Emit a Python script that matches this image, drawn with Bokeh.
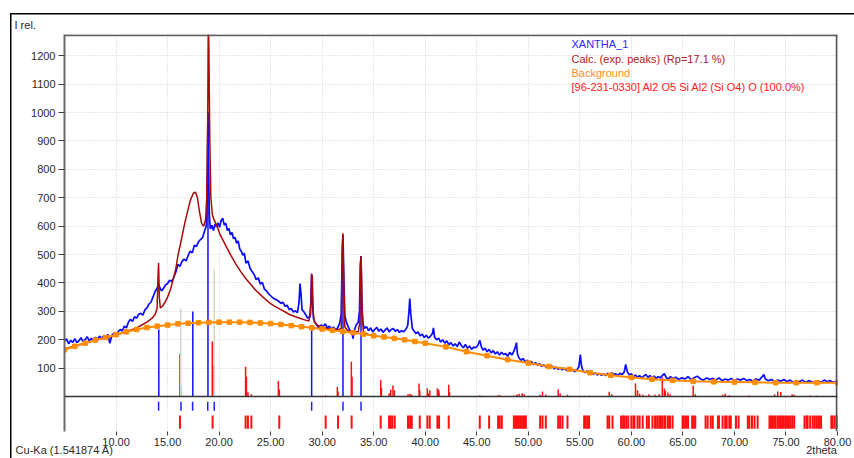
from bokeh.plotting import figure
from bokeh.models import (FixedTicker, NumeralTickFormatter, Span, Label, LinearAxis,
                          Range1d)
from bokeh.embed import file_html
from bokeh.resources import INLINE

# ---------------- data ----------------
x_ticks = [10, 15, 20, 25, 30, 35, 40, 45, 50, 55, 60, 65, 70, 75, 80]
y_ticks = [100, 200, 300, 400, 500, 600, 700, 800, 900, 1000, 1100, 1200]

# measured pattern XANTHA_1 (2theta, counts)
obs_2theta = [
    5.0, 5.2, 5.4, 5.6, 5.8, 6.0, 6.2, 6.4, 6.6, 6.8,
    7.0, 7.2, 7.4, 7.6, 7.8, 8.0, 8.2, 8.4, 8.6, 8.8,
    9.0, 9.2, 9.4, 9.6, 9.8, 10.0, 10.2, 10.4, 10.6, 10.8,
    11.0, 11.2, 11.4, 11.6, 11.8, 12.0, 12.2, 12.4, 12.6, 12.8,
    13.0, 13.2, 13.4, 13.6, 13.8, 14.0, 14.1, 14.2, 14.4, 14.6,
    14.8, 15.0, 15.2, 15.4, 15.6, 15.8, 16.0, 16.2, 16.4, 16.6,
    16.8, 17.0, 17.2, 17.4, 17.6, 17.8, 18.0, 18.2, 18.4, 18.6,
    18.75, 18.85, 18.92, 18.98, 19.05, 19.15, 19.3, 19.45, 19.6, 19.75,
    19.9, 20.05, 20.2, 20.35, 20.5, 20.65, 20.8, 20.95, 21.1, 21.25,
    21.4, 21.55, 21.7, 21.85, 22.0, 22.15, 22.3, 22.45, 22.6, 22.8,
    23.0, 23.2, 23.4, 23.6, 23.8, 24.0, 24.2, 24.4, 24.6, 24.8,
    25.0, 25.2, 25.4, 25.6, 25.8, 26.0, 26.2, 26.4, 26.6, 26.8,
    27.0, 27.2, 27.4, 27.6, 27.75, 27.85, 27.95, 28.05, 28.2, 28.4,
    28.6, 28.8, 28.9, 28.97, 29.05, 29.15, 29.3, 29.5, 29.7, 29.9,
    30.1, 30.3, 30.5, 30.7, 30.9, 31.1, 31.3, 31.5, 31.7, 31.85,
    31.95, 32.02, 32.1, 32.2, 32.35, 32.5, 32.7, 32.9, 33.0, 33.1,
    33.3, 33.5, 33.62, 33.7, 33.77, 33.85, 33.95, 34.1, 34.3, 34.5,
    34.7, 34.9, 35.1, 35.3, 35.5, 35.7, 35.9, 36.1, 36.3, 36.5,
    36.7, 36.9, 37.1, 37.3, 37.5, 37.7, 37.9, 38.1, 38.3, 38.42,
    38.5, 38.6, 38.75, 38.9, 39.1, 39.3, 39.5, 39.7, 39.9, 40.1,
    40.3, 40.5, 40.7, 40.8, 40.9, 41.1, 41.3, 41.5, 41.7, 41.9,
    42.1, 42.3, 42.5, 42.7, 42.9, 43.1, 43.3, 43.5, 43.7, 43.9,
    44.1, 44.3, 44.5, 44.7, 44.9, 45.1, 45.3, 45.45, 45.6, 45.8,
    46.0, 46.2, 46.4, 46.6, 46.8, 47.0, 47.2, 47.4, 47.6, 47.8,
    48.0, 48.2, 48.4, 48.6, 48.75, 48.85, 48.95, 49.1, 49.3, 49.5,
    49.7, 49.9, 50.1, 50.3, 50.5, 50.7, 50.9, 51.1, 51.3, 51.5,
    51.7, 51.9, 52.1, 52.3, 52.5, 52.7, 52.9, 53.1, 53.3, 53.5,
    53.7, 53.9, 54.1, 54.3, 54.5, 54.7, 54.9, 55.05, 55.15, 55.3,
    55.5, 55.7, 55.9, 56.1, 56.3, 56.5, 56.7, 56.9, 57.1, 57.3,
    57.5, 57.7, 57.9, 58.1, 58.3, 58.5, 58.7, 58.9, 59.1, 59.3,
    59.45, 59.6, 59.8, 60.0, 60.2, 60.4, 60.6, 60.8, 61.0, 61.2,
    61.4, 61.6, 61.8, 62.0, 62.2, 62.4, 62.6, 62.8, 63.0, 63.2,
    63.4, 63.6, 63.8, 64.0, 64.3, 64.6, 64.9, 65.2, 65.5, 65.8,
    66.1, 66.4, 66.7, 67.0, 67.3, 67.6, 67.9, 68.2, 68.5, 68.8,
    69.1, 69.4, 69.7, 70.0, 70.3, 70.6, 70.9, 71.2, 71.5, 71.8,
    72.1, 72.4, 72.7, 72.85, 73.0, 73.3, 73.6, 73.9, 74.2, 74.5,
    74.8, 75.1, 75.4, 75.7, 76.0, 76.3, 76.6, 76.9, 77.2, 77.5,
    77.8, 78.1, 78.4, 78.7, 79.0, 79.3, 79.6, 79.9, 80.0,
]
obs_counts = [
    195, 203, 186, 198, 191, 204, 190, 197, 207, 194,
    200, 211, 196, 205, 199, 209, 201, 213, 204, 214,
    206, 219, 188, 216, 224, 214, 229, 236, 231, 248,
    242, 262, 272, 265, 281, 276, 290, 293, 287, 305,
    312, 326, 333, 352, 371, 382, 397, 388, 372, 380,
    393, 398, 410, 405, 420, 438, 466, 458, 476, 484,
    478, 497, 512, 506, 533, 528, 545, 553, 560, 584,
    600, 700, 1000, 820, 640, 590, 603, 585, 608, 598,
    612, 596, 620, 628, 604, 610, 585, 592, 570, 578,
    556, 560, 540, 548, 520, 512, 498, 505, 470, 478,
    452, 440, 430, 412, 418, 396, 402, 378, 372, 362,
    355, 348, 344, 340, 335, 328, 332, 318, 322, 306,
    310, 298, 302, 296, 330, 398, 360, 305, 300, 288,
    276, 282, 330, 430, 340, 276, 262, 250, 240, 252,
    246, 256, 242, 248, 238, 245, 236, 242, 258, 290,
    520, 570, 420, 285, 262, 248, 232, 222, 204, 230,
    252, 262, 300, 460, 495, 330, 258, 240, 246, 232,
    242, 228, 236, 244, 230, 238, 226, 234, 242, 228,
    236, 240, 230, 236, 226, 232, 228, 236, 250, 300,
    345, 290, 240, 232, 222, 228, 214, 220, 208, 216,
    206, 212, 222, 242, 210, 200, 206, 192, 200, 188,
    196, 182, 190, 178, 186, 176, 192, 180, 172, 184,
    170, 178, 166, 174, 172, 180, 198, 175, 164, 170,
    158, 166, 154, 162, 150, 158, 146, 156, 148, 152,
    142, 156, 146, 160, 175, 190, 150, 136, 128, 134,
    122, 128, 118, 124, 112, 120, 110, 116, 106, 112,
    104, 110, 100, 108, 98, 104, 96, 102, 94, 100,
    92, 98, 90, 96, 88, 94, 104, 148, 110, 90,
    84, 90, 80, 86, 78, 84, 76, 82, 75, 80,
    74, 82, 76, 84, 78, 80, 74, 82, 78, 86,
    113, 88, 76, 80, 70, 76, 68, 74, 66, 72,
    78, 68, 74, 66, 72, 64, 70, 66, 74, 81,
    66, 62, 70, 64, 68, 60, 66, 62, 70, 60,
    66, 72, 62, 58, 66, 60, 64, 58, 66, 56,
    62, 58, 64, 56, 62, 58, 64, 56, 60, 54,
    62, 58, 70, 78, 62, 56, 60, 52, 58, 54,
    60, 52, 58, 50, 56, 52, 58, 50, 56, 52,
    48, 56, 50, 58, 52, 56, 50, 54, 56,
]

# calculated profile (exp. peaks)
calc_2theta = [
    5.0, 6.0, 7.0, 8.0, 9.0, 10.0, 11.0, 12.0, 12.5, 13.0,
    13.5, 13.8, 13.98, 14.07, 14.13, 14.2, 14.3, 14.5, 14.8, 15.0,
    15.3, 15.6, 15.8, 16.0, 16.3, 16.7, 17.0, 17.2, 17.5, 17.7,
    17.9, 18.1, 18.3, 18.5, 18.7, 18.8, 18.9, 18.95, 19.0, 19.1,
    19.2, 19.35, 19.5, 19.8, 20.1, 20.6, 21.1, 21.6, 22.1, 22.6,
    23.1, 23.5, 24.0, 24.5, 25.0, 25.5, 26.0, 26.5, 26.9, 27.4,
    27.9, 28.3, 28.7, 28.88, 28.98, 29.05, 29.12, 29.25, 29.5, 30.0,
    30.5, 31.0, 31.5, 31.85, 31.95, 32.0, 32.07, 32.2, 32.5, 33.0,
    33.5, 33.65, 33.72, 33.78, 33.88, 34.0, 34.5, 35.0,
]
calc_counts = [
    168, 178, 188, 198, 207, 217, 228, 242, 252, 262,
    276, 290, 310, 420, 470, 350, 312, 318, 335, 350,
    380, 420, 451, 495, 546, 616, 660, 690, 716, 720,
    700, 650, 610, 600, 625, 700, 1000, 1320, 1250, 900,
    700, 640, 623, 600, 570, 535, 500, 468, 440, 415,
    394, 376, 359, 342, 327, 316, 306, 296, 288, 281,
    275, 270, 266, 290, 433, 420, 300, 262, 252, 244,
    240, 237, 235, 240, 500, 575, 450, 245, 232, 228,
    228, 260, 470, 495, 300, 226, 219, 214,
]

# refined background
bg_2theta = [5, 6, 7, 8, 9, 10, 11, 12, 13, 14, 15, 16, 17, 18, 19, 20, 21, 22,
             23, 24, 25, 26, 27, 28, 29, 30, 31, 32, 33, 34, 35, 36, 37, 38, 39,
             40, 42, 44, 46, 48, 50, 52, 54, 56, 58, 60, 62, 64, 66, 68, 70, 72,
             74, 76, 78, 80]
bg_counts = [165, 177, 188, 199, 208, 218, 228, 236, 243, 248, 252, 256, 258, 260,
             261, 262, 262, 262, 261, 259, 257, 254, 250, 246, 242, 238, 233, 229,
             225, 220, 214, 210, 205, 200, 194, 188, 175, 158, 144, 130, 118, 106,
             96, 84, 75, 67, 61, 57, 54, 52, 51, 50, 49, 49, 49, 49]

# peak sticks (matched reflections)
match_2theta = [14.15, 17.45, 18.92, 28.98, 32.02, 33.77]
match_height = [236, 300, 1000, 233, 540, 470]
faint_2theta = [16.27, 19.52]
faint_height = [310, 447]
match_marks = [14.13, 16.3, 17.43, 18.9, 19.53, 28.98, 32.02, 33.77]

# phase [96-231-0330] reflections
phase_2theta = [16.2, 16.26, 19.34, 19.4, 22.57, 22.65, 22.8, 23.13, 25.75, 25.85,
                30.34, 31.47, 31.54, 32.83, 32.9, 35.68, 35.75, 36.5, 36.65, 36.87,
                37.0, 38.33, 38.53, 38.69, 39.4, 39.47, 40.2, 40.3, 40.44, 41.18,
                41.3, 41.34, 42.28, 42.35, 45.29, 46.2, 47.07, 47.23, 48.6, 48.9,
                49.1, 49.4, 49.6, 51.15, 51.38, 51.7, 52.9, 53.09, 53.8, 55.42,
                55.9, 57.85, 58.1, 60.4, 60.6, 60.8, 61.1, 61.7, 62.3, 62.7,
                63.0, 63.2, 63.3, 63.55, 63.75, 66.0, 66.2, 68.85, 69.1, 69.5,
                71.45, 73.9, 74.2, 74.5, 75.6, 75.8, 77.35, 78.0, 79.5]
phase_height = [150, 40, 194, 110, 105, 70, 15, 8, 55, 25,
                4, 35, 18, 123, 70, 58, 30, 12, 25, 39,
                22, 8, 10, 6, 46, 22, 29, 12, 22, 29,
                24, 14, 42, 15, 4, 2, 5, 5, 4, 7,
                10, 12, 8, 6, 18, 6, 25, 12, 6, 3,
                3, 17, 8, 46, 22, 10, 6, 8, 6, 8,
                67, 28, 20, 14, 8, 39, 8, 6, 10, 5,
                4, 8, 18, 16, 8, 6, 4, 3, 3]
phase_marks = [16.2, 19.37, 22.57, 22.8, 23.13, 25.84, 30.34, 31.54, 32.86, 35.68,
               36.49, 36.65, 36.81, 37.04, 38.33, 38.53, 38.69, 39.47, 40.21, 40.44,
               41.18, 41.34, 42.28, 45.29, 46.2, 47.07, 47.23, 47.43, 48.6, 48.75,
               48.9, 49.05, 49.2, 49.35, 49.5, 49.65, 49.76, 51.15, 51.38, 51.7,
               52.9, 53.09, 53.32, 53.8, 55.42, 55.58, 55.75, 55.9, 57.69, 57.85,
               58.17, 59.0, 59.2, 59.3, 59.5, 59.7, 60.0, 60.2, 60.3, 60.6,
               60.8, 61.1, 61.5, 61.7, 62.05, 62.3, 62.5, 62.7, 62.85, 63.0,
               63.2, 63.3, 63.55, 63.75, 64.0, 64.97, 65.1, 65.3, 65.5, 65.9,
               66.05, 66.2, 67.2, 67.4, 67.7, 67.9, 68.4, 68.5, 68.85, 69.1,
               69.25, 69.5, 69.65, 70.15, 70.4, 71.3, 71.45, 71.7, 71.95, 72.25,
               73.4, 73.55, 73.7, 73.85, 74.0, 74.2, 74.35, 74.5, 74.65, 74.8,
               75.0, 75.2, 75.4, 75.6, 75.8, 76.8, 77.0, 77.1, 77.35, 77.6,
               77.8, 78.0, 78.2, 78.4, 79.4, 79.5, 79.7, 79.9, 80.0]

# ---------------- figure ----------------
FONT = "Liberation Sans"
TXT = "#2a2a2a"

p = figure(width=844, height=445, x_range=(5, 80), y_range=(-123, 1275),
           output_backend="svg", toolbar_location=None,
           min_border_left=54, min_border_right=17, min_border_top=20,
           min_border_bottom=0)
# panel border along the top and left edges, drawn behind a transparent border area
p.margin = (13, 0, 0, 10)
p.styles = {"box-shadow": "inset 1.5px 1.5px 0 0 #000000"}
p.outline_line_color = None
p.background_fill_color = "white"
p.border_fill_color = None

# caption at the top-left of the panel
p.title.text = "I rel."
p.title.align = "left"
p.title.offset = -50
p.title.standoff = 7
p.title.text_font = FONT
p.title.text_font_size = "11px"
p.title.text_font_style = "normal"
p.title.text_color = TXT

# axes
p.yaxis.ticker = FixedTicker(ticks=y_ticks)
p.yaxis.axis_line_color = "#6a6a6a"
p.yaxis.axis_line_width = 2
p.yaxis.major_tick_line_color = "#404040"
p.yaxis.major_tick_out = 6
p.yaxis.major_tick_in = 0
p.yaxis.minor_tick_line_color = None
p.yaxis.major_label_text_font = FONT
p.yaxis.major_label_text_font_size = "11px"
p.yaxis.major_label_text_color = TXT
p.yaxis.major_label_standoff = 3

p.xaxis.ticker = FixedTicker(ticks=x_ticks)
p.xaxis.formatter = NumeralTickFormatter(format="0.00")
p.xaxis.axis_line_color = None
p.xaxis.major_tick_line_color = "#404040"
p.xaxis.major_tick_out = 4
p.xaxis.major_tick_in = 0
p.xaxis.minor_tick_line_color = None
p.xaxis.major_label_text_font = FONT
p.xaxis.major_label_text_font_size = "11px"
p.xaxis.major_label_text_color = TXT
p.xaxis.major_label_standoff = 2

# second row below the x axis: radiation caption and axis name
p.extra_x_ranges = {"caption": Range1d(0, 773)}
cap_axis = LinearAxis(x_range_name="caption",
                      ticker=FixedTicker(ticks=[0, 757]),
                      major_label_overrides={0: "Cu-Ka (1.541874 A)", 757: "2theta"},
                      axis_line_color=None, major_tick_line_color=None,
                      minor_tick_line_color=None, major_tick_out=0, major_tick_in=0,
                      major_label_standoff=-5, major_label_text_font=FONT,
                      major_label_text_font_size="11px", major_label_text_color=TXT)
p.add_layout(cap_axis, "below")

p.xgrid.ticker = FixedTicker(ticks=x_ticks)
p.ygrid.ticker = FixedTicker(ticks=y_ticks)
for g in (p.xgrid, p.ygrid):
    g.grid_line_color = "#cfcfcf"
    g.grid_line_dash = "1 2"
    g.grid_line_width = 1

# frame edges (top and right) and zero line
p.add_layout(Span(location=1272, dimension="width", line_color="#606060", line_width=2))
p.add_layout(Span(location=79.93, dimension="height", line_color="#505050", line_width=2))
p.add_layout(Span(location=0, dimension="width", line_color="#333333", line_width=1.5))

# reflection sticks
p.segment(x0=phase_2theta, y0=0, x1=phase_2theta, y1=phase_height,
          line_color="#ff1010", line_width=1.5)
p.segment(x0=faint_2theta, y0=0, x1=faint_2theta, y1=faint_height,
          line_color="#d4d4d4", line_width=1.5)
p.segment(x0=match_2theta, y0=0, x1=match_2theta, y1=match_height,
          line_color="#1010ff", line_width=1.5)

# reflection position marks below the zero line
p.segment(x0=match_marks, y0=-18, x1=match_marks, y1=-50,
          line_color="#2020ff", line_width=1.5)
p.segment(x0=phase_marks, y0=-67, x1=phase_marks, y1=-113,
          line_color="#ff1010", line_width=2)

# profiles
p.line(obs_2theta, obs_counts, line_color="#0a0aff", line_width=1.7)
p.line(calc_2theta, calc_counts, line_color="#a80a0a", line_width=1.5)
p.line(bg_2theta, bg_counts, line_color="#ff8c00", line_width=2)
p.scatter(bg_2theta, bg_counts, marker="square", size=4.5,
          fill_color="#ff8c00", line_color="#ff8c00")

# legend texts
legend_items = [
    ("XANTHA_1", "#2a2aff", 388),
    ("Calc. (exp. peaks) (Rp=17.1 %)", "#b02020", 373),
    ("Background", "#ff9020", 359),
    ("[96-231-0330] Al2 O5 Si Al2 (Si O4) O (100.0%)", "#ff2020", 345),
]
for txt, col, yy in legend_items:
    p.add_layout(Label(x=507, y=yy, x_units="screen", y_units="screen", text=txt,
                       text_color=col, text_font=FONT, text_font_size="11px",
                       text_baseline="middle", text_align="left"))

open("out.html", "w").write(file_html(p, INLINE))
